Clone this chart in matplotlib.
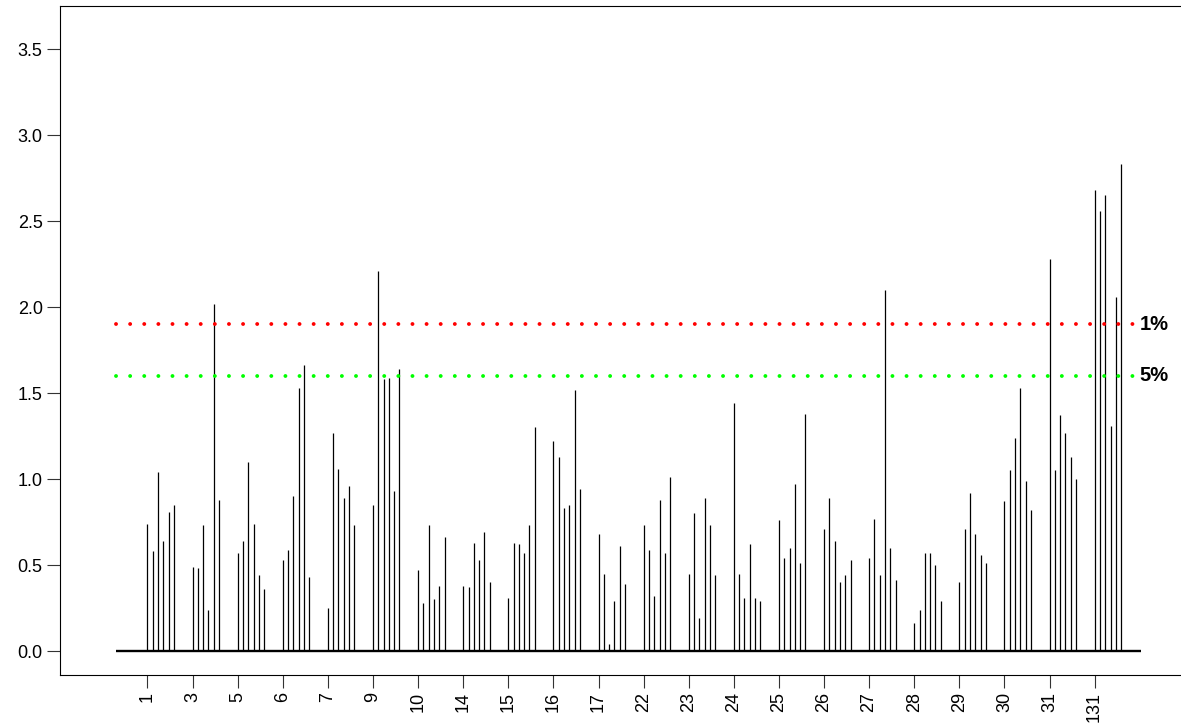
import matplotlib
matplotlib.use('Agg')
import matplotlib.pyplot as plt
import numpy as np

plt.rcParams['font.family'] = ['Liberation Sans', 'DejaVu Sans']

# group labels along the x axis
groups = ['1', '3', '5', '6', '7', '9', '10', '14', '15', '16', '17',
          '22', '23', '24', '25', '26', '27', '28', '29', '30', '31', '131']

# six values per group
values = [
    [0.74, 0.58, 1.04, 0.64, 0.81, 0.85],  # 1
    [0.49, 0.48, 0.73, 0.24, 2.02, 0.88],  # 3
    [0.57, 0.64, 1.10, 0.74, 0.44, 0.36],  # 5
    [0.53, 0.59, 0.90, 1.53, 1.66, 0.43],  # 6
    [0.25, 1.27, 1.06, 0.89, 0.96, 0.73],  # 7
    [0.85, 2.21, 1.58, 1.59, 0.93, 1.64],  # 9
    [0.47, 0.28, 0.73, 0.30, 0.38, 0.66],  # 10
    [0.38, 0.37, 0.63, 0.53, 0.69, 0.40],  # 14
    [0.31, 0.63, 0.62, 0.57, 0.73, 1.30],  # 15
    [1.22, 1.13, 0.83, 0.85, 1.52, 0.94],  # 16
    [0.68, 0.45, 0.04, 0.29, 0.61, 0.39],  # 17
    [0.73, 0.59, 0.32, 0.88, 0.57, 1.01],  # 22
    [0.45, 0.80, 0.19, 0.89, 0.73, 0.44],  # 23
    [1.44, 0.45, 0.31, 0.62, 0.31, 0.29],  # 24
    [0.76, 0.54, 0.60, 0.97, 0.51, 1.38],  # 25
    [0.71, 0.89, 0.64, 0.40, 0.44, 0.53],  # 26
    [0.54, 0.77, 0.44, 2.10, 0.60, 0.41],  # 27
    [0.16, 0.24, 0.57, 0.57, 0.50, 0.29],  # 28
    [0.40, 0.71, 0.92, 0.68, 0.56, 0.51],  # 29
    [0.87, 1.05, 1.24, 1.53, 0.99, 0.82],  # 30
    [2.28, 1.05, 1.37, 1.27, 1.13, 1.00],  # 31
    [2.68, 2.56, 2.65, 1.31, 2.06, 2.83],  # 131
]

# significance thresholds
thr_values = [1.90, 1.60]
thr_labels = ['1%', '5%']
thr_colors = ['#ff0000', '#00ff00']

step = 0.1175  # spacing of the lines inside one group

fig = plt.figure(figsize=(11.81, 7.26), dpi=100)
ax = fig.add_axes([60 / 1181, 51 / 726, 1130 / 1181, 669 / 726])

xs, ys = [], []
for i, row in enumerate(values):
    for j, v in enumerate(row):
        xs.append(i + j * step)
        ys.append(v)
ax.vlines(xs, 0, ys, color='black', linewidth=0.9)

x0, x1 = -0.70, 22.03
ax.hlines(0, x0, x1, color='black', linewidth=1.7)

for thr, lab, col in zip(thr_values, thr_labels, thr_colors):
    ax.plot([x0, x1], [thr, thr], color=col, linewidth=2.8,
            linestyle=(0, (0.01, 3.62)), dash_capstyle='round')
    ax.text(22.0, thr, lab, fontsize=14.5, fontweight='bold',
            ha='left', va='center')

ax.set_xlim(-1.94, 23.115)
ax.set_ylim(-0.1395, 3.75)
ax.set_xticks(np.arange(len(groups)))
ax.set_xticklabels(groups, rotation=90)
ax.set_yticks([0, 0.5, 1.0, 1.5, 2.0, 2.5, 3.0, 3.5])
ax.set_yticklabels(['0.0', '0.5', '1.0', '1.5', '2.0', '2.5', '3.0', '3.5'])
ax.tick_params(axis='both', labelsize=13, length=9.5, width=0.8, pad=3,
               color='#333333')
for s in ax.spines.values():
    s.set_linewidth(0.8)
ax.spines['right'].set_visible(False)

fig.savefig('out.png', dpi=100)
